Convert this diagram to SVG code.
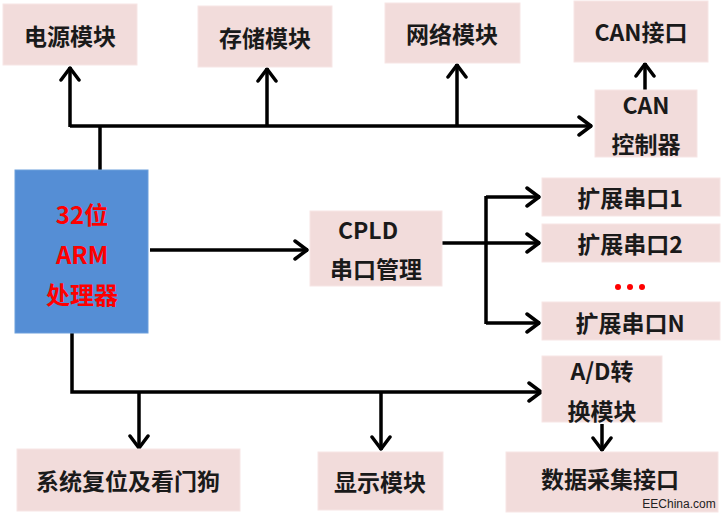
<svg xmlns="http://www.w3.org/2000/svg" width="721" height="513" viewBox="0 0 721 513">
<defs>
<marker id="ah" viewBox="0 0 16 22" refX="15" refY="11" markerWidth="16" markerHeight="22" markerUnits="userSpaceOnUse" orient="auto">
<path d="M2,2 L14,11 L2,20" fill="none" stroke="#000" stroke-width="3.5" stroke-linecap="round" stroke-linejoin="round"/>
</marker>
<style>
.box{fill:#f2dcdb;stroke:#f7e6e5;stroke-width:1}
.t{font-family:"Noto Sans CJK SC","Noto Sans",sans-serif;font-weight:bold;font-size:23px;fill:#1a1a1a;text-anchor:middle;dominant-baseline:central}
.r{fill:#ff0000;font-size:24px}
.ln{fill:none;stroke:#000;stroke-width:3.5;stroke-linejoin:miter}
.ar{marker-end:url(#ah)}
</style>
</defs>
<rect width="721" height="513" fill="#fff"/>
<g id="connectors">
<path class="ln" d="M100,170 V126"/>
<path class="ln ar" d="M70,126 H592"/>
<path class="ln ar" d="M70,127 V67"/>
<path class="ln ar" d="M267,126 V68"/>
<path class="ln ar" d="M457,126 V64"/>
<path class="ln ar" d="M645,92 V63"/>
<path class="ln ar" d="M150,250 H308"/>
<path class="ln" d="M442,243 H486"/>
<path class="ln ar" d="M486,197 H540"/>
<path class="ln ar" d="M486,243 H540"/>
<path class="ln ar" d="M486,323 H540"/>
<path class="ln" d="M486,196 V324"/>
<path class="ln ar" d="M72,333 V392 H542"/>
<path class="ln ar" d="M139,392 V449"/>
<path class="ln ar" d="M381,392 V450"/>
<path class="ln ar" d="M602,424 V451"/>
</g>
<g id="power"><rect class="box" x="3" y="4" width="134" height="61"/><text class="t" x="70" y="35">电源模块</text></g>
<g id="storage"><rect class="box" x="198" y="6" width="134" height="61"/><text class="t" x="265" y="37">存储模块</text></g>
<g id="network"><rect class="box" x="385" y="3" width="135" height="60"/><text class="t" x="452" y="33">网络模块</text></g>
<g id="can-if"><rect class="box" x="574" y="1" width="134" height="61"/><text class="t" x="641" y="31">CAN接口</text></g>
<g id="can-ctrl"><rect class="box" x="595" y="90" width="102" height="67"/><text class="t" x="646" y="104">CAN</text><text class="t" x="646" y="143">控制器</text></g>
<g id="arm"><rect x="15" y="170" width="133" height="163" fill="#558ed5" stroke="#6c9fdc" stroke-width="1"/><text class="t r" x="82" y="213">32位</text><text class="t r" x="82" y="253">ARM</text><text class="t r" x="82" y="293">处理器</text></g>
<g id="cpld"><rect class="box" x="310" y="211" width="132" height="75"/><text class="t" x="368" y="229">CPLD</text><text class="t" x="376" y="268">串口管理</text></g>
<g id="uart1"><rect class="box" x="542" y="178" width="178" height="38"/><text class="t" x="630" y="197">扩展串口1</text></g>
<g id="uart2"><rect class="box" x="542" y="224" width="178" height="38"/><text class="t" x="630" y="243">扩展串口2</text></g>
<g id="dots"><circle cx="618" cy="287" r="3" fill="#ff0000"/><circle cx="630" cy="287" r="3" fill="#ff0000"/><circle cx="642" cy="287" r="3" fill="#ff0000"/></g>
<g id="uartN"><rect class="box" x="542" y="302" width="178" height="38"/><text class="t" x="630" y="322">扩展串口N</text></g>
<g id="adc"><rect class="box" x="542" y="356" width="120" height="66"/><text class="t" x="602" y="370">A/D转</text><text class="t" x="602" y="410">换模块</text></g>
<g id="reset"><rect class="box" x="17" y="449" width="223" height="62"/><text class="t" x="128" y="480">系统复位及看门狗</text></g>
<g id="display"><rect class="box" x="318" y="452" width="125" height="58"/><text class="t" x="380" y="481">显示模块</text></g>
<g id="daq"><rect class="box" x="506" y="452" width="212" height="60"/><text class="t" x="610" y="478">数据采集接口</text></g>
<text x="679" y="508" font-family="'Liberation Sans',Arial,sans-serif" font-size="12" fill="#222" text-anchor="middle">EEChina.com</text>
</svg>
